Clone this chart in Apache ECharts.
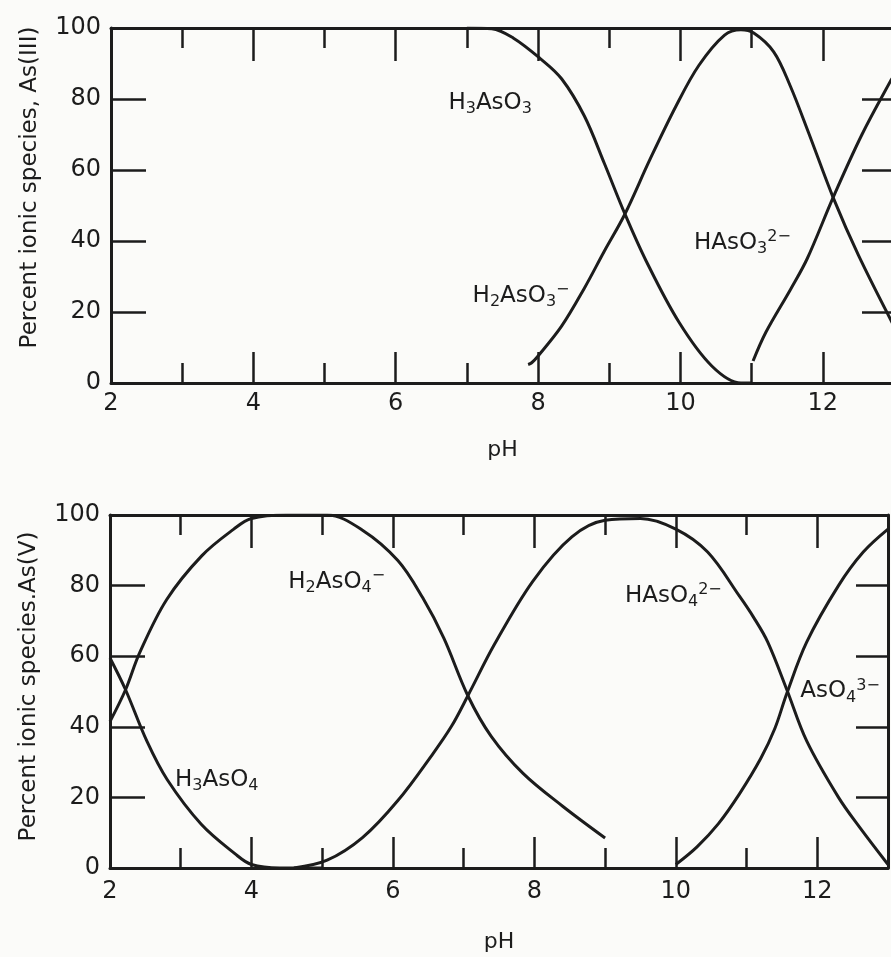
<!DOCTYPE html>
<html>
<head>
<meta charset="utf-8">
<script src="https://cdn.jsdelivr.net/npm/echarts@6/dist/echarts.min.js"></script>
<style>
  html, body { margin: 0; padding: 0; background: #fbfbf9; }
  #chart { width: 891px; height: 957px; }
</style>
</head>
<body>
<div id="chart"></div>
<script>
// As(III) species, points are [pH, percent]
const h3aso3 = [[7.0, 100], [7.35, 99.8], [7.65, 97.2], [8.03, 91.4], [8.33, 85.7], [8.65, 75.2],
  [8.93, 61.9], [9.22, 47.6], [9.52, 34.3], [9.98, 17.1], [10.44, 4.8], [10.85, 0], [11.0, 0]]
const h2aso3 = [[7.86, 5.2], [7.91, 5.7], [8.0, 7.6], [8.33, 16], [8.65, 26.7], [8.93, 37.1],
  [9.22, 47.6], [9.57, 62.9], [9.94, 78.1], [10.26, 89.5], [10.62, 98], [10.85, 99.5],
  [11.03, 98.6], [11.31, 93.3], [11.54, 83.8], [11.8, 70.5], [12.15, 52], [12.5, 36], [13.0, 16]]
const haso3 = [[11.02, 6.2], [11.2, 14.3], [11.55, 26.5], [11.78, 35], [12.15, 52.5],
  [12.55, 70], [12.95, 85], [13.0, 86.5]]

// As(V) species
const h3aso4 = [[2.0, 59.5], [2.22, 50.5], [2.52, 36], [2.81, 25], [3.29, 12.4], [3.77, 4],
  [4.0, 1], [4.4, 0], [5.0, 0]]
const h2aso4 = [[2.0, 41.5], [2.22, 50.5], [2.42, 61], [2.8, 76], [3.3, 88.5], [3.75, 96],
  [4.0, 99], [4.5, 100], [5.07, 100], [5.57, 95.7], [6.07, 87.1], [6.42, 76.6], [6.72, 65.1],
  [7.06, 48.8], [7.39, 37.3], [7.84, 26.8], [8.4, 17.5], [9.0, 8.5]]
const haso4 = [[4.6, 0], [5.07, 2.2], [5.57, 8.6], [6.07, 19.1], [6.57, 32.5], [6.83, 40.2],
  [7.06, 48.8], [7.44, 63.5], [7.98, 81.3], [8.53, 93.8], [9.0, 98.5], [9.5, 99], [10.0, 96],
  [10.45, 89.5], [10.9, 77], [11.1, 71], [11.3, 64], [11.57, 50.5], [11.85, 36], [12.3, 20],
  [12.6, 11.5], [13.0, 1]]
const aso4 = [[10.0, 1], [10.3, 6], [10.6, 12.5], [10.9, 21], [11.2, 31], [11.4, 39.5],
  [11.57, 49.5], [11.85, 64], [12.3, 80], [12.65, 89.5], [13.0, 96]]

// species labels: [pH, percent, rich text]
const labelsIII = [
  [6.74, 79, 'H{s|3}AsO{s|3}'],
  [7.08, 24.5, 'H{s|2}AsO{s|3}{p|−}'],
  [10.19, 39.5, 'HAsO{s|3}{p|2−}']
]
const labelsV = [
  [4.52, 81, 'H{s|2}AsO{s|4}{p|−}'],
  [2.92, 25, 'H{s|3}AsO{s|4}'],
  [9.28, 77, 'HAsO{s|4}{p|2−}'],
  [11.76, 50, 'AsO{s|4}{p|3−}']
]

const PH_MIN = 2
const PH_MAX = 13
const INK = '#1c1c1c'
const FONT = 'DejaVu Sans'

function xAxes(gi, nameGap, labelMargin) {
  const tickLine = { color: INK, width: 2.5 }
  const base = { gridIndex: gi, type: 'value', min: PH_MIN, max: PH_MAX, splitLine: { show: false } }
  return [
    Object.assign({}, base, {
      position: 'bottom', interval: 2,
      axisLine: { show: true, lineStyle: { color: INK, width: 3 } },
      axisTick: { inside: true, length: 31, lineStyle: tickLine },
      axisLabel: { margin: labelMargin, fontSize: 24, fontFamily: FONT, color: INK, showMaxLabel: false },
      name: 'pH', nameLocation: 'middle', nameGap: nameGap,
      nameTextStyle: { fontSize: 22, fontFamily: FONT, color: INK }
    }),
    Object.assign({}, base, {
      position: 'bottom', interval: 1,
      axisLine: { show: false },
      axisTick: { inside: true, length: 20, lineStyle: tickLine },
      axisLabel: { show: false }
    }),
    Object.assign({}, base, {
      position: 'top', interval: 2,
      axisLine: { show: true, lineStyle: { color: INK, width: 3 } },
      axisTick: { inside: true, length: 33, lineStyle: tickLine },
      axisLabel: { show: false }
    }),
    Object.assign({}, base, {
      position: 'top', interval: 1,
      axisLine: { show: false },
      axisTick: { inside: true, length: 20, lineStyle: tickLine },
      axisLabel: { show: false }
    })
  ]
}

function yAxes(gi, title, namePad) {
  const base = { gridIndex: gi, type: 'value', min: 0, max: 100, interval: 20, splitLine: { show: false } }
  return [
    Object.assign({}, base, {
      position: 'left',
      axisLine: { show: true, lineStyle: { color: INK, width: 3 } },
      axisTick: { inside: true, length: 35, lineStyle: { color: INK, width: 2.5 } },
      axisLabel: { margin: 10, fontSize: 24, fontFamily: FONT, color: INK },
      name: title, nameLocation: 'middle', nameGap: 69, nameRotate: 90,
      nameTextStyle: { fontSize: 23, fontFamily: FONT, color: INK, padding: [0, 0, 0, namePad] }
    }),
    Object.assign({}, base, {
      position: 'right',
      axisLine: { show: true, lineStyle: { color: INK, width: 3 } },
      axisTick: { inside: true, length: 32, lineStyle: { color: INK, width: 2.5 } },
      axisLabel: { show: false }
    })
  ]
}

function curve(data, xi, yi) {
  return {
    type: 'line', data: data, xAxisIndex: xi, yAxisIndex: yi,
    smooth: 0.35, showSymbol: false, silent: true,
    lineStyle: { color: INK, width: 3 }
  }
}

function labelSeries(data, xi, yi) {
  return {
    type: 'scatter', data: data, xAxisIndex: xi, yAxisIndex: yi,
    symbolSize: 0, silent: true,
    itemStyle: { opacity: 1 },
    label: {
      show: true, position: 'right', distance: 0,
      fontSize: 23, fontFamily: FONT, color: INK, lineHeight: 28,
      formatter: function (p) { return p.data[2] },
      rich: {
        s: { fontSize: 16, fontFamily: FONT, color: INK, lineHeight: 14, verticalAlign: 'bottom' },
        p: { fontSize: 16, fontFamily: FONT, color: INK, lineHeight: 14, verticalAlign: 'top' }
      }
    }
  }
}

const chart = echarts.init(document.getElementById('chart'))

chart.setOption({
  backgroundColor: '#fbfbf9',
  animation: false,
  grid: [
    { left: 111, right: -3, top: 28, height: 355, outerBoundsMode: 'none' },
    { left: 110, right: 3, top: 515, height: 353, outerBoundsMode: 'none' }
  ],
  xAxis: xAxes(0, 56, 9).concat(xAxes(1, 63, 12)),
  yAxis: yAxes(0, 'Percent ionic species, As(III)', 36)
    .concat(yAxes(1, 'Percent ionic species.As(V)', 10)),
  series: [
    curve(h3aso3, 0, 0),
    curve(h2aso3, 0, 0),
    curve(haso3, 0, 0),
    labelSeries(labelsIII, 0, 0),
    curve(h3aso4, 4, 2),
    curve(h2aso4, 4, 2),
    curve(haso4, 4, 2),
    curve(aso4, 4, 2),
    labelSeries(labelsV, 4, 2)
  ]
})
</script>
</body>
</html>
